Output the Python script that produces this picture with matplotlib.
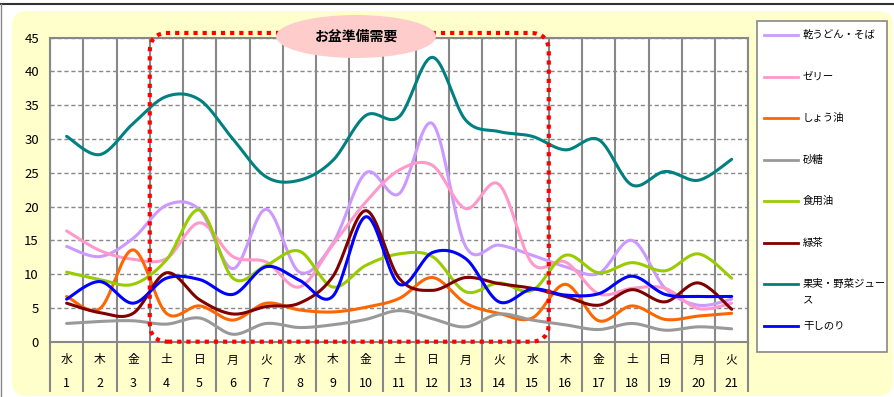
import numpy as np
import matplotlib
matplotlib.use("Agg")
import matplotlib.pyplot as plt
from matplotlib.patches import FancyBboxPatch, Ellipse
from matplotlib.lines import Line2D

plt.rcParams['font.family'] = ['Noto Sans CJK JP', 'DejaVu Sans']

# data
days = list(range(1, 22))
weekdays = ['水', '木', '金', '土', '日', '月', '火', '水', '木', '金', '土',
            '日', '月', '火', '水', '木', '金', '土', '日', '月', '火']

udon = [14.1, 12.6, 15.3, 20.2, 19.5, 10.8, 19.6, 10.3, 14.5, 25.0, 21.9,
        32.3, 14.1, 14.3, 12.8, 11.1, 10.1, 15.0, 7.9, 5.4, 6.3]
jelly = [16.4, 13.5, 12.2, 12.3, 17.6, 12.6, 11.8, 8.1, 14.3, 20.7, 25.4,
         26.1, 19.7, 23.3, 11.6, 11.8, 7.1, 7.9, 7.9, 4.9, 5.7]
soy = [6.7, 4.9, 13.6, 4.2, 5.3, 3.2, 5.7, 4.7, 4.4, 5.1, 6.4,
       9.5, 5.7, 4.2, 3.5, 8.5, 3.1, 5.3, 3.3, 3.8, 4.2]
sugar = [2.7, 3.0, 3.1, 2.6, 3.5, 1.1, 2.7, 2.1, 2.5, 3.3, 4.6,
         3.4, 2.2, 4.1, 3.2, 2.5, 1.8, 2.7, 1.7, 2.2, 1.9]
oil = [10.3, 9.2, 8.5, 12.1, 19.5, 9.4, 11.3, 13.4, 8.1, 11.3, 13.0,
       12.6, 7.4, 8.7, 7.6, 12.8, 10.2, 11.7, 10.5, 13.0, 9.4]
tea = [5.7, 4.3, 4.2, 10.2, 6.2, 4.1, 5.2, 5.7, 9.6, 19.4, 9.4,
       7.6, 9.5, 8.6, 7.9, 6.7, 5.4, 7.7, 5.9, 8.7, 4.8]
juice = [30.4, 27.7, 32.3, 36.3, 35.8, 30.0, 24.4, 23.9, 26.8, 33.5, 33.3,
         42.1, 32.8, 31.1, 30.4, 28.4, 29.9, 23.2, 25.2, 23.9, 27.0]
nori = [6.3, 8.9, 5.7, 9.4, 9.2, 7.0, 11.1, 9.1, 6.7, 18.5, 8.5,
        13.2, 12.3, 5.9, 7.8, 6.9, 7.1, 9.7, 7.0, 6.7, 6.7]

series_names = ['乾うどん・そば', 'ゼリー', 'しょう油', '砂糖', '食用油', '緑茶',
                '果実・野菜ジュース', '干しのり']
series_values = [udon, jelly, soy, sugar, oil, tea, juice, nori]
colors = ['#CC99FF', '#FF99CC', '#FF6600', '#999999', '#99CC00', '#800000',
          '#008080', '#0000FF']

GRID = '#888888'


def smooth(xs, ys, steps=20):
    # Catmull-Rom style smoothing, like spreadsheet "smoothed line"
    pts = np.column_stack([xs, ys]).astype(float)
    n = len(pts)
    out = []
    for i in range(n - 1):
        p0 = pts[i - 1] if i > 0 else pts[i]
        p1 = pts[i]
        p2 = pts[i + 1]
        p3 = pts[i + 2] if i + 2 < n else pts[i + 1]
        c1 = p1 + (p2 - p0) / 6
        c2 = p2 - (p3 - p1) / 6
        t = np.linspace(0, 1, steps, endpoint=False)[:, None]
        seg = ((1 - t) ** 3) * p1 + 3 * ((1 - t) ** 2) * t * c1 + 3 * (1 - t) * t ** 2 * c2 + t ** 3 * p2
        out.append(seg)
    out.append(pts[-1:])
    res = np.vstack(out)
    return res[:, 0], res[:, 1]


fig = plt.figure(figsize=(8.94, 3.97), dpi=100)
fig.patch.set_facecolor('white')

# yellow rounded background
bg = FancyBboxPatch((0.12, 0.01), 8.81, 3.85, boxstyle="round,pad=0,rounding_size=0.15",
                    transform=fig.dpi_scale_trans, facecolor='#FFFFCC', edgecolor='none', zorder=-5)
fig.patches.append(bg)
fig.add_artist(Line2D([0, 1], [1 - 3.5 / 397] * 2, transform=fig.transFigure, color='#333333', lw=1.5))
fig.add_artist(Line2D([0.6 / 894] * 2, [0, 1 - 3.5 / 397], transform=fig.transFigure, color='#888888', lw=1))

ax = fig.add_axes([50 / 894, 1 - 341.7 / 397, 698.3 / 894, 304 / 397])
ax.set_facecolor('white')
x = np.arange(len(days))

for name, vals, c in zip(series_names, series_values, colors):
    sx, sy = smooth(x, vals)
    ax.plot(sx, sy, color=c, lw=2.2, solid_capstyle='round', zorder=3)

ax.set_xlim(-0.5, 20.5)
ax.set_ylim(0, 45)
ax.set_yticks(range(0, 46, 5))
ax.tick_params(axis='y', length=0, pad=8, labelsize=9.5)
ax.set_xticks([])
ax.yaxis.grid(True, color=GRID, linestyle='--', lw=1, dashes=(3, 2))
ax.set_axisbelow(True)
for sp in ax.spines.values():
    sp.set_color(GRID)
    sp.set_linewidth(1.5)

bounds = np.arange(-0.5, 21, 1)
ax.vlines(bounds, 0, 45, color=GRID, lw=1.5, zorder=1)
ax.vlines(bounds, -50 / 6.756, 0, color=GRID, lw=1.5, clip_on=False)

xt = ax.get_xaxis_transform()
for i, (wd, d) in enumerate(zip(weekdays, days)):
    ax.text(i, -0.060, wd, transform=xt, ha='center', va='center', fontsize=8.5)
    ax.text(i, -0.136, str(d), transform=xt, ha='center', va='center', fontsize=9)

# highlighted period
box = FancyBboxPatch((2.5, 0), 12, 45.7, boxstyle="round,pad=0,rounding_size=0.55",
                     mutation_aspect=5, fill=False, edgecolor='#FF0000', lw=3,
                     linestyle=(0, (1, 1.2)), clip_on=False, zorder=5)
ax.add_patch(box)

ell = Ellipse((3.56, (397 - 36.5) / 100), 1.6, 0.43, transform=fig.dpi_scale_trans,
              facecolor='#FFCCCC', edgecolor='none', zorder=6)
fig.patches.append(ell)
fig.text(356 / 894, 1 - 36.5 / 397, 'お盆準備需要', ha='center', va='center',
         fontsize=10, fontweight='bold', zorder=7)

# legend
leg = FancyBboxPatch((7.57, 0.45), 1.30, 3.31, boxstyle="square,pad=0",
                     transform=fig.dpi_scale_trans, facecolor='white', edgecolor='#888888', lw=1.2)
fig.patches.append(leg)
leg_y = [35, 77, 118, 160, 201, 243, 284, 326]
for name, c, yp in zip(series_names, colors, leg_y):
    yy = (397 - yp) / 100
    fig.add_artist(Line2D([7.64, 7.98], [yy, yy], transform=fig.dpi_scale_trans, color=c, lw=2))
    label = name if name != '果実・野菜ジュース' else '果実・野菜ジュー'
    fig.text(8.03 / 8.94, yy / 3.97, label, ha='left', va='center', fontsize=7.5)
    if label != name:
        fig.text(8.03 / 8.94, (397 - 299) / 397, 'ス', ha='left', va='center', fontsize=7.5)

fig.savefig('out.png', dpi=100)
